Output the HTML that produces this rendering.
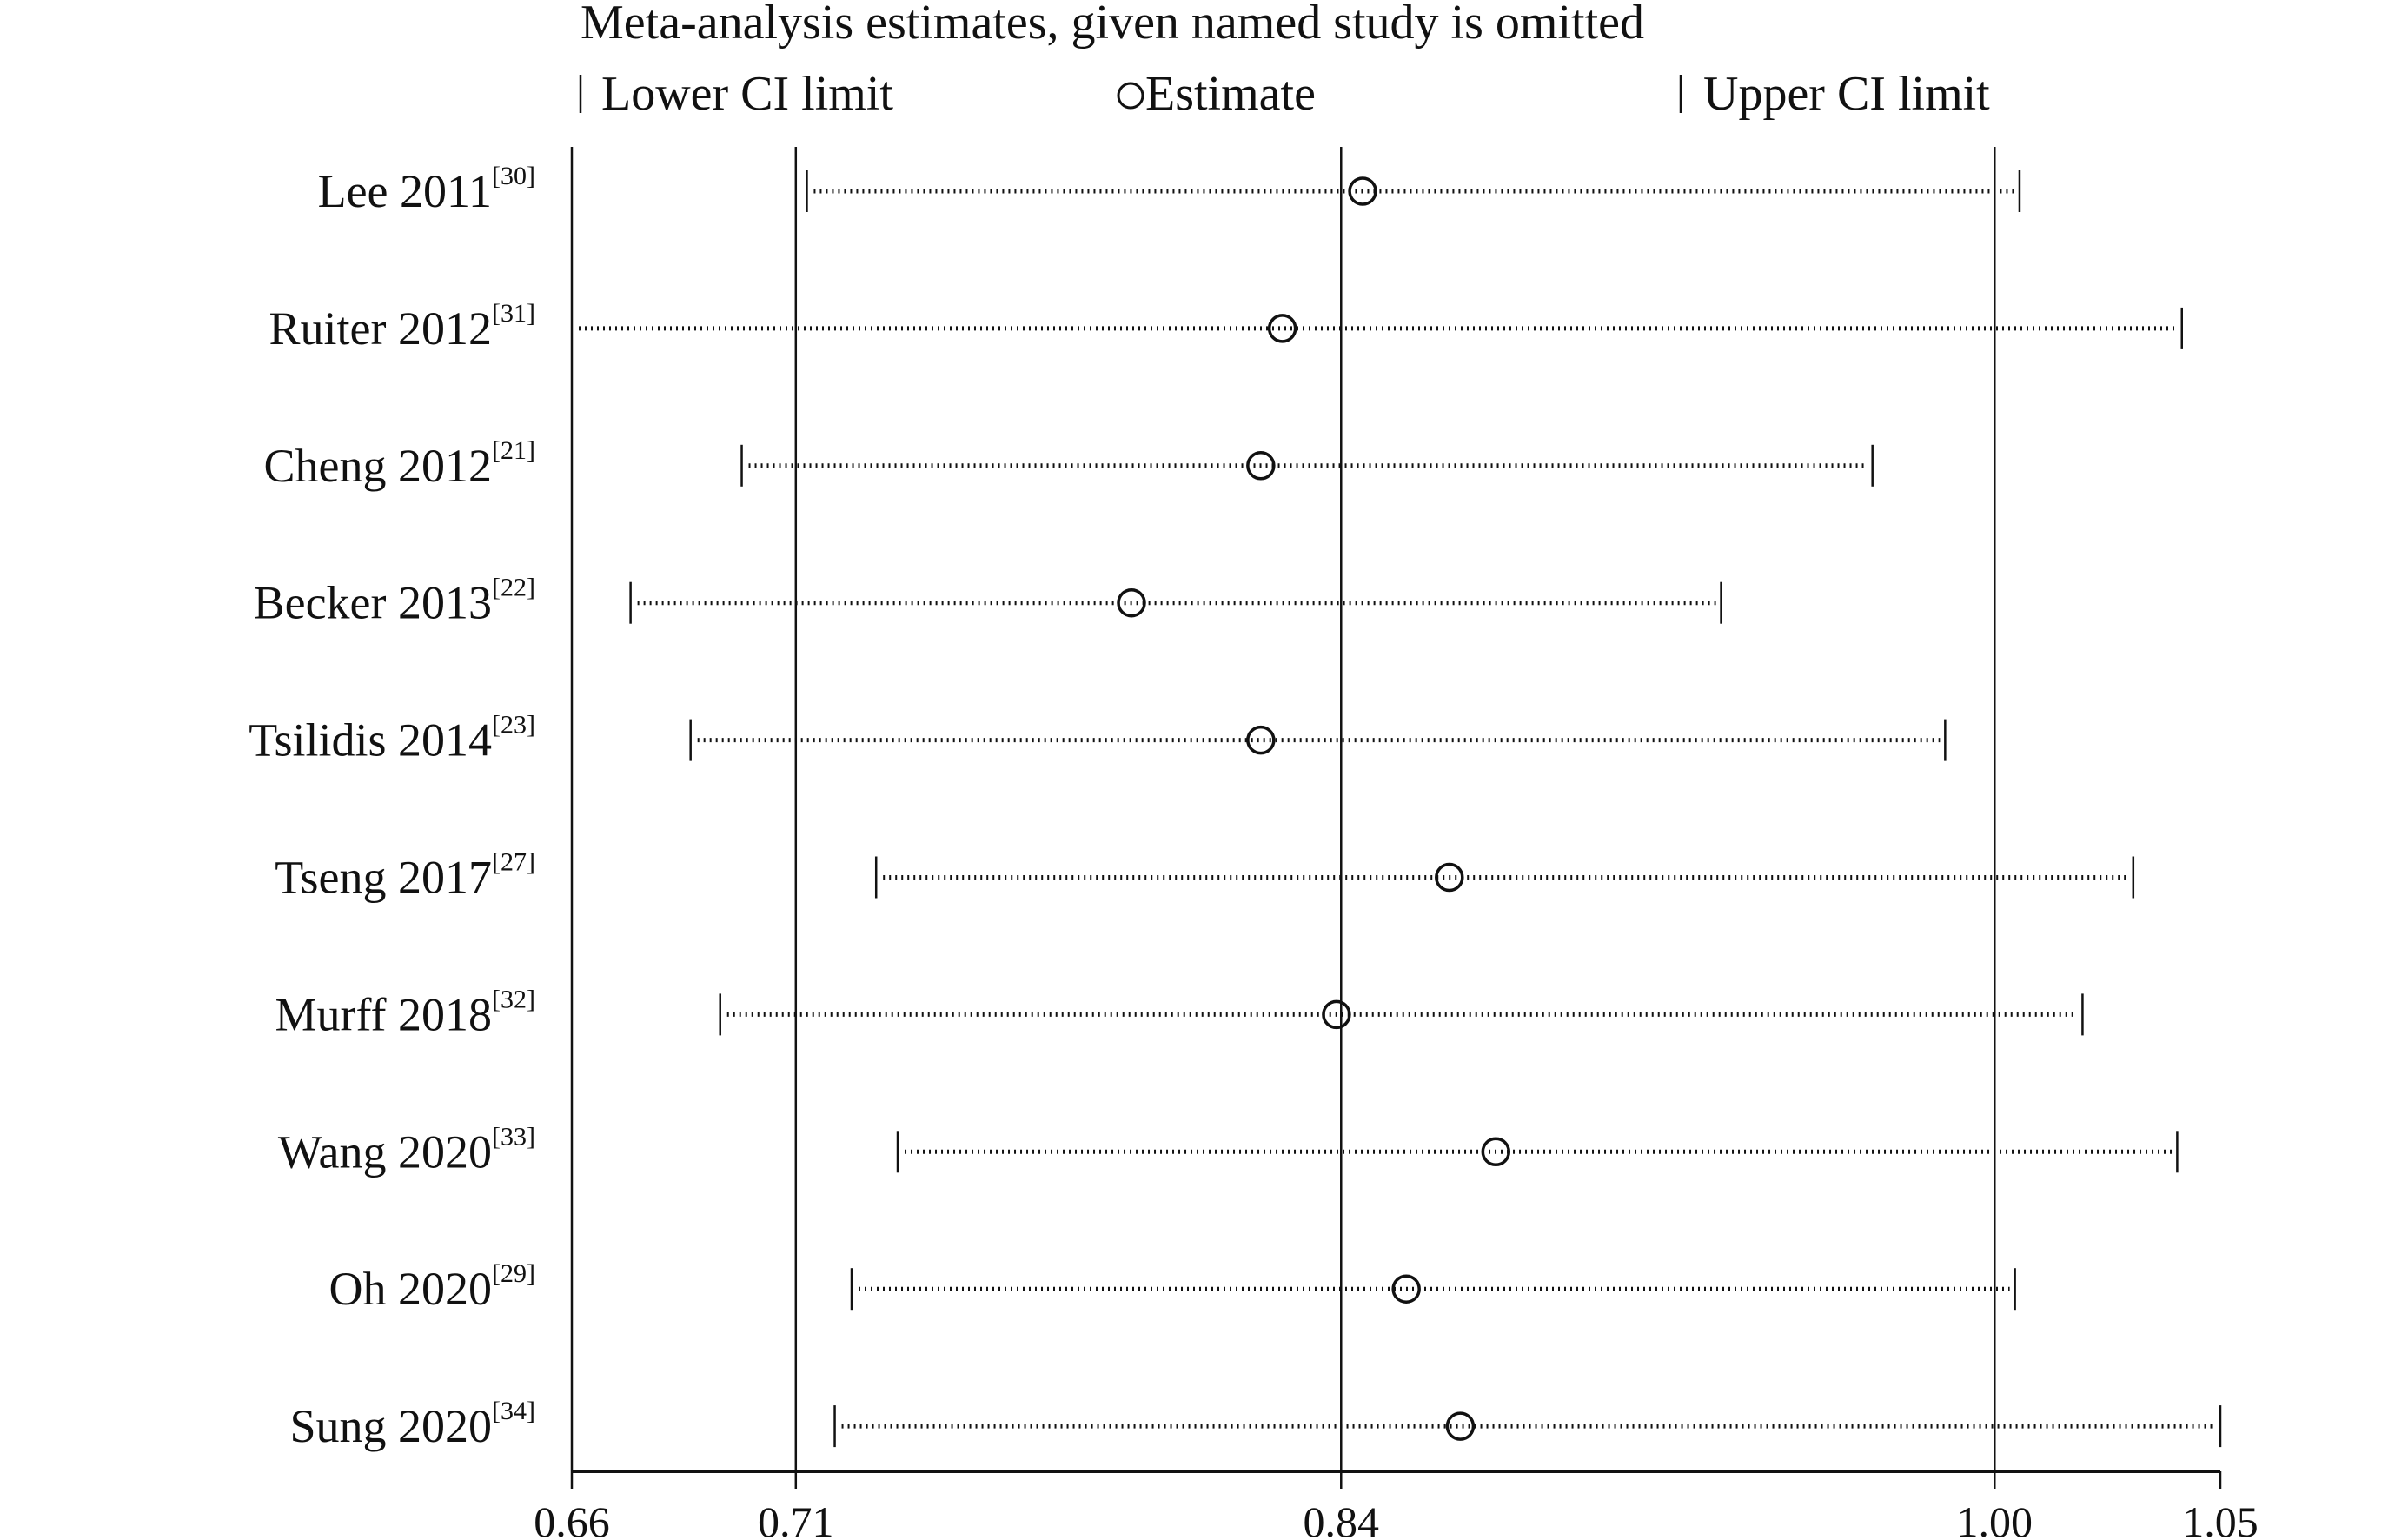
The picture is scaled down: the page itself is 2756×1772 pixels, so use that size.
<!DOCTYPE html>
<html><head><meta charset="utf-8"><style>
html,body{margin:0;padding:0;background:#fff;}
svg{display:block;font-family:"Liberation Serif",serif;}
</style></head><body>
<svg id="chart" width="2756" height="1772" viewBox="0 0 2756 1772" xmlns="http://www.w3.org/2000/svg">
<text x="668" y="44" font-size="56" fill="#111">Meta-analysis estimates, given named study is omitted</text>
<g>
<line x1="668" y1="86" x2="668" y2="130" stroke="#111" stroke-width="2.5"/>
<text x="692" y="126" font-size="56" fill="#111">Lower CI limit</text>
<circle cx="1301" cy="110" r="14" fill="none" stroke="#111" stroke-width="3"/>
<text x="1318" y="126" font-size="56" fill="#111">Estimate</text>
<line x1="1934" y1="86" x2="1934" y2="130" stroke="#111" stroke-width="2.5"/>
<text x="1960" y="126" font-size="56" fill="#111">Upper CI limit</text>
</g>
<g id="plot"></g>
</svg>
<script>
const studies = ["Lee 2011","Ruiter 2012","Cheng 2012","Becker 2013","Tsilidis 2014","Tseng 2017","Murff 2018","Wang 2020","Oh 2020","Sung 2020"];
const refs = ["30","31","21","22","23","27","32","33","29","34"];
const lower = [0.7156,0.655,0.7002,0.6739,0.6881,0.7320,0.6951,0.7371,0.7262,0.7222];
const estimate = [0.8471,0.8281,0.8230,0.7924,0.8230,0.8676,0.8409,0.8786,0.8574,0.8702];
const upper = [1.0025,1.0409,0.9677,0.9319,0.9849,1.0294,1.0174,1.0398,1.0014,1.05];
const tickValues = [0.66,0.713,0.842,0.9966,1.05];
const tickLabels = ["0.66","0.71","0.84","1.00","1.05"];
const refLines = [0.66,0.713,0.842,0.9966];

const NS="http://www.w3.org/2000/svg";
const X0=658,X1=2555,D0=0.66,D1=1.05;
const xs=v=>X0+(v-D0)/(D1-D0)*(X1-X0);
const Y0=220,DY=157.9;
const ys=i=>Y0+i*DY;
const AXY=1693,TOP=169;
const g=document.getElementById('plot');
function mk(t,a){const e=document.createElementNS(NS,t);for(const k in a)e.setAttribute(k,a[k]);g.appendChild(e);return e;}

refLines.forEach((v,i)=>{
  const l=mk('line',{x1:xs(v),x2:xs(v),y1:TOP,y2:AXY,stroke:'#111','stroke-width':2.5});
  
  
});
const ax=mk('line',{x1:xs(D0),x2:xs(D1),y1:AXY,y2:AXY,stroke:'#111','stroke-width':4});


tickValues.forEach((v,i)=>{
  const t=mk('line',{x1:xs(v),x2:xs(v),y1:AXY,y2:AXY+20,stroke:'#111','stroke-width':2.5});
  
  
  const tx=mk('text',{x:xs(v),y:1768,'font-size':50,'text-anchor':'middle',fill:'#111'});
  tx.textContent=tickLabels[i];
  
  
});
studies.forEach((s,i)=>{
  const y=ys(i);
  const lab=mk('text',{x:566,y:y+18,'font-size':54,'text-anchor':'end',fill:'#111'});
  lab.textContent=s;
  
  
  const sup=mk('text',{x:566,y:y-8,'font-size':30,fill:'#111'});
  sup.textContent='['+refs[i]+']';
  
  
  const lo=Math.max(lower[i],D0);
  const ln=mk('line',{x1:xs(lo)+8,x2:xs(upper[i])-6,y1:y,y2:y,stroke:'#111','stroke-width':5,'stroke-dasharray':'2,5'});
  
  
  if(lower[i]>=D0){
    const lt=mk('line',{x1:xs(lower[i]),x2:xs(lower[i]),y1:y-24,y2:y+24,stroke:'#111','stroke-width':2.5});
    
    
  }
  const ut=mk('line',{x1:xs(upper[i]),x2:xs(upper[i]),y1:y-24,y2:y+24,stroke:'#111','stroke-width':2.5});
  
  
  const c=mk('circle',{cx:xs(estimate[i]),cy:y,r:15,fill:'none',stroke:'#111','stroke-width':3.5});
  
  
});
</script>
</body></html>
